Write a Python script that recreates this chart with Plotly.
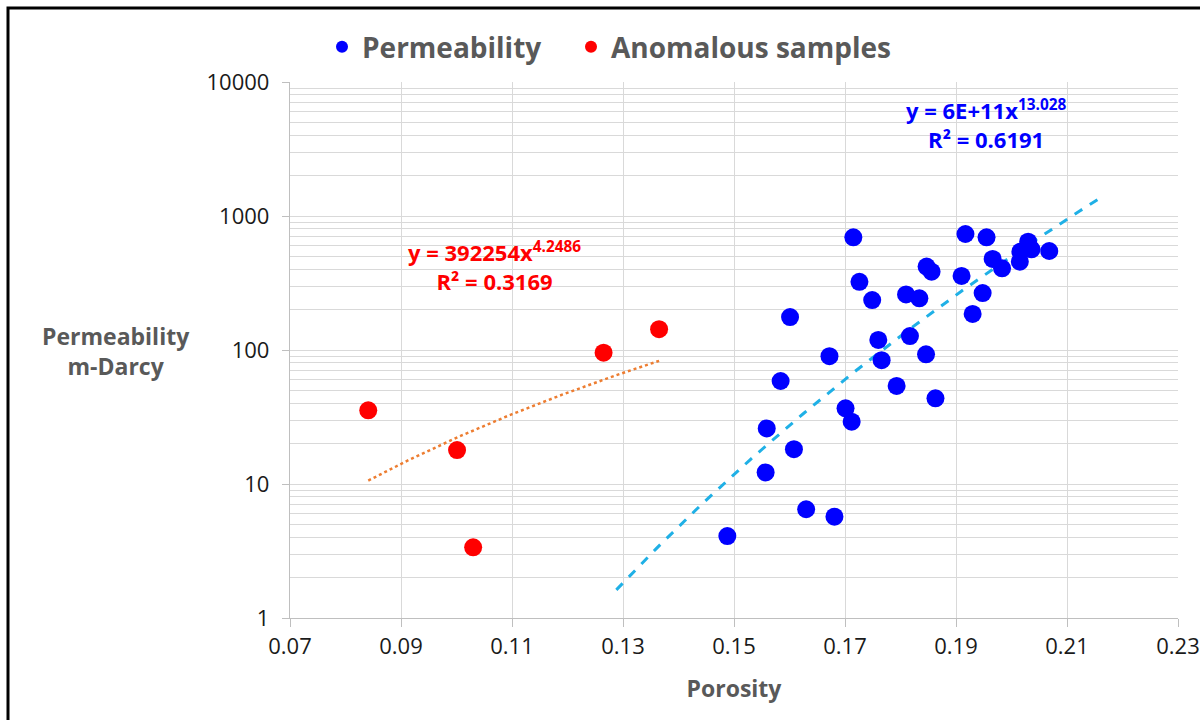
import numpy as np
import plotly.graph_objects as go

# ---- data ----
porosity = [0.1488, 0.1557, 0.1559, 0.1584, 0.1601, 0.1608, 0.1630, 0.1672, 0.1681,
            0.1701, 0.1712, 0.1715, 0.1726, 0.1749, 0.1760, 0.1766, 0.1793, 0.1810,
            0.1817, 0.1834, 0.1846, 0.1847, 0.1856, 0.1863, 0.1910, 0.1917, 0.1930,
            0.1948, 0.1955, 0.1966, 0.1983, 0.2015, 0.2016, 0.2030, 0.2036, 0.2068]
permeability = [4.09, 12.2, 26.0, 58.7, 176, 18.2, 6.48, 90, 5.70,
                36.7, 29.2, 693, 323, 236, 119, 84, 53.9, 260,
                127, 243, 92.9, 419, 384, 43.6, 357, 734, 186,
                266, 693, 478, 407, 456, 542, 643, 564, 548]

anom_porosity = [0.0841, 0.1001, 0.1030, 0.1265, 0.1365]
anom_permeability = [35.5, 17.9, 3.37, 95.5, 143]

# power-law trendlines y = a * x^b (label shows a rounded to 6E+11)
perm_fit_a, perm_fit_b = 6.4e11, 13.028
perm_fit_range = [0.1288, 0.2168]
anom_fit_a, anom_fit_b = 392254, 4.2486
anom_fit_range = [0.0841, 0.1365]

x_ticks = [0.07, 0.09, 0.11, 0.13, 0.15, 0.17, 0.19, 0.21, 0.23]
y_ticks = [1, 10, 100, 1000, 10000]
y_minor = [m * d for d in [1, 10, 100, 1000] for m in range(2, 10)]

FONT = "Open Sans"
GRID = "#d9d9d9"
TITLE_GRAY = "#595959"

xf1 = np.linspace(perm_fit_range[0], perm_fit_range[1], 100)
yf1 = perm_fit_a * xf1 ** perm_fit_b
xf2 = np.linspace(anom_fit_range[0], anom_fit_range[1], 100)
yf2 = anom_fit_a * xf2 ** anom_fit_b

fig = go.Figure()
fig.add_trace(go.Scatter(x=xf1, y=yf1, mode="lines", showlegend=False, hoverinfo="skip",
                         line=dict(color="#1fb0e6", width=3, dash="dash")))
fig.add_trace(go.Scatter(x=xf2, y=yf2, mode="lines", showlegend=False, hoverinfo="skip",
                         line=dict(color="#ed7d31", width=2.5, dash="dot")))
fig.add_trace(go.Scatter(x=porosity, y=permeability, mode="markers", name="Permeability",
                         legend="legend",
                         marker=dict(color="#0000ff", size=18, line=dict(width=0))))
fig.add_trace(go.Scatter(x=anom_porosity, y=anom_permeability, mode="markers",
                         name="Anomalous samples", legend="legend2",
                         marker=dict(color="#ff0000", size=18, line=dict(width=0))))

legend_font = dict(family=FONT, size=28, color=TITLE_GRAY, weight="bold")

fig.update_layout(
    width=1200, height=720,
    margin=dict(l=290, r=22, t=82, b=102),
    paper_bgcolor="white", plot_bgcolor="white",
    font=dict(family=FONT, color="#1a1a1a"),
    legend=dict(orientation="h", x=(322 - 290) / 888, y=(618 - 47) / 536,
                xanchor="left", yanchor="middle", font=legend_font, itemsizing="constant"),
    legend2=dict(orientation="h", x=(571 - 290) / 888, y=(618 - 47) / 536,
                 xanchor="left", yanchor="middle", font=legend_font, itemsizing="constant"),
    xaxis=dict(range=[0.07, 0.23], tickvals=x_ticks, ticktext=[f"{v:.2f}" for v in x_ticks],
               automargin=False,
               showgrid=True, gridcolor=GRID, gridwidth=1.3, zeroline=False,
               showline=True, linecolor="#bfbfbf", linewidth=1.3,
               ticks="outside", ticklen=8, tickcolor="#bfbfbf",
               tickfont=dict(family=FONT, size=22, color="#1a1a1a"),
               title=dict(text="Porosity", standoff=22,
                          font=dict(family=FONT, size=23, color=TITLE_GRAY, weight="bold"))),
    yaxis=dict(type="log", range=[0, 4], tickvals=y_ticks, ticktext=[str(v) for v in y_ticks],
               automargin=False,
               showgrid=True, gridcolor=GRID, gridwidth=1.3, zeroline=False,
               showline=True, linecolor="#bfbfbf", linewidth=1.3,
               ticks="outside", ticklen=7, tickcolor="#bfbfbf", ticklabelstandoff=8,
               tickfont=dict(family=FONT, size=22, color="#1a1a1a"),
               minor=dict(tickmode="array", tickvals=y_minor, showgrid=True,
                          gridcolor=GRID, gridwidth=1.3, ticks="")),
    annotations=[
        dict(text="Permeability<br>m-Darcy", xref="paper", yref="paper",
             x=(116 - 290) / 888, y=(618 - 351) / 536, xanchor="center", yanchor="middle",
             showarrow=False, align="center",
             font=dict(family=FONT, size=23, color=TITLE_GRAY, weight="bold")),
        dict(text="y = 6E+11x<sup>13.028</sup><br>R² = 0.6191", xref="paper", yref="paper",
             x=(986 - 290) / 888, y=(618 - 124) / 536, xanchor="center", yanchor="middle",
             showarrow=False, align="center",
             font=dict(family=FONT, size=22, color="#0000ff", weight="bold")),
        dict(text="y = 392254x<sup>4.2486</sup><br>R² = 0.3169", xref="paper", yref="paper",
             x=(494 - 290) / 888, y=(618 - 266) / 536, xanchor="center", yanchor="middle",
             showarrow=False, align="center",
             font=dict(family=FONT, size=22, color="#ff0000", weight="bold")),
    ],
    shapes=[
        dict(type="rect", xref="paper", yref="paper",
             x0=(8 - 290) / 888, x1=(1215 - 290) / 888,
             y0=(618 - 735) / 536, y1=(618 - 8) / 536,
             line=dict(color="black", width=3), layer="above"),
    ],
)

fig.write_html("out.html", config={"displayModeBar": False},
               post_script="document.body.style.margin='0';document.body.style.overflow='hidden';")
